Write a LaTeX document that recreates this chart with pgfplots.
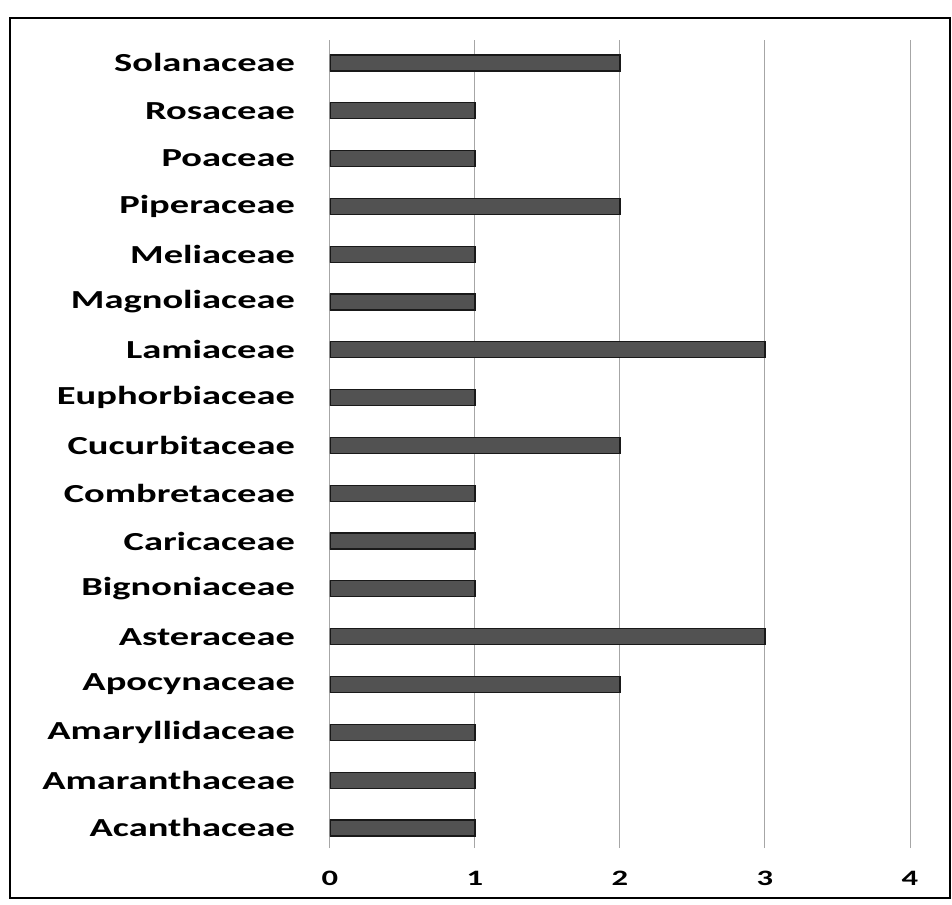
\documentclass[border=0pt]{standalone}
\usepackage{fontspec}
\setmainfont{Carlito}[FakeStretch=1.48]
\usepackage{pgfplots}
\pgfplotsset{compat=1.18}
\begin{document}
\begin{tikzpicture}
\useasboundingbox (-165pt,-28pt) rectangle (311pt,424pt);
\begin{axis}[
  at={(0pt,0pt)}, anchor=south west,
  scale only axis, width=290pt, height=404pt,
  xbar, bar width=8pt,
  xmin=0, xmax=4, ymin=-0.42, ymax=16.48,
  xtick={0,1,2,3,4}, xticklabels={0,1,2,3,4},
  ytick={0,...,16},
  yticklabels={Acanthaceae,Amaranthaceae,Amaryllidaceae,Apocynaceae,Asteraceae,Bignoniaceae,Caricaceae,Combretaceae,Cucurbitaceae,Euphorbiaceae,Lamiaceae,Magnoliaceae,Meliaceae,Piperaceae,Poaceae,Rosaceae,Solanaceae},
  major tick length=0pt,
  axis line style={draw=none},
  xmajorgrids, grid style={black!35, line width=0.5pt},
  extra x ticks={0}, extra x tick labels={}, extra x tick style={grid style={black!35, line width=0.5pt}},
  yticklabel style={font=\fontsize{13}{15}\selectfont\bfseries, anchor=east, xshift=-14pt},
  xticklabel style={font=\fontsize{11}{13}\selectfont\bfseries, yshift=-8pt},
]
\addplot[fill=black!68, draw=black!90, line width=0.6pt] coordinates {
(1,0) (1,1) (1,2) (2,3) (3,4) (1,5) (1,6) (1,7) (2,8) (1,9) (3,10) (1,11) (1,12) (2,13) (1,14) (1,15) (2,16)
};
\end{axis}
\draw[line width=1.3pt] (-160pt,-25pt) rectangle (310pt,415pt);
\end{tikzpicture}
\end{document}
